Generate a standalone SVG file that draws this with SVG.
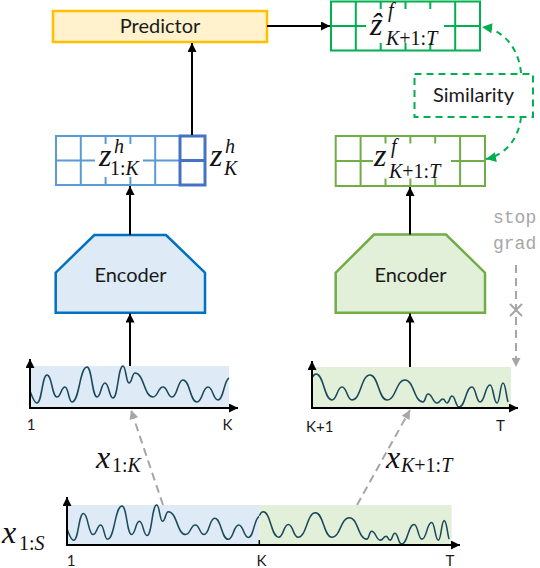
<svg xmlns="http://www.w3.org/2000/svg" xmlns:xlink="http://www.w3.org/1999/xlink" width="540" height="568" viewBox="0 0 540 568">
<style>
.lbl{font-family:Lato,"Liberation Sans",sans-serif;font-size:20px;fill:#1a1a1a}
.tick{font-family:Lato,"Liberation Sans",sans-serif;font-size:15px;fill:#1a1a1a}
.m{font-family:"Liberation Serif","DejaVu Serif",serif;font-style:italic;font-size:32px;fill:#111}
.s{font-size:20px}
.up{font-style:normal}
.mono{font-family:"Liberation Mono","DejaVu Sans Mono",monospace;font-size:18px;fill:#a6a6a6}
.wave{fill:none;stroke:#1c4a5c;stroke-width:1.6}
.axis{stroke:#000;stroke-width:2;fill:none}
.conn{stroke:#000;stroke-width:2;fill:none}
.gdash{stroke:#a6a6a6;stroke-width:2;stroke-dasharray:8 5;fill:none}
.grdash{stroke:#00b050;stroke-width:2;stroke-dasharray:6 5;fill:none}
.bgrid{stroke:#5b9bd5;stroke-width:2;fill:none}
.ggrid{stroke:#70ad47;stroke-width:2;fill:none}
.hgrid{stroke:#00b050;stroke-width:2;fill:none}
</style>
<defs>
<marker id="ah" viewBox="0 0 10 10" refX="10" refY="5" markerWidth="10" markerHeight="9" markerUnits="userSpaceOnUse" orient="auto"><path d="M0,0 L10,5 L0,10 z" fill="#000"/></marker>
<marker id="ahg" viewBox="0 0 10 10" refX="10" refY="5" markerWidth="10" markerHeight="9" markerUnits="userSpaceOnUse" orient="auto"><path d="M0,0 L10,5 L0,10 z" fill="#a6a6a6"/></marker>
<marker id="ahgr" viewBox="0 0 10 10" refX="10" refY="5" markerWidth="11" markerHeight="10" markerUnits="userSpaceOnUse" orient="auto"><path d="M0,0 L10,5 L0,10 z" fill="#00b050"/></marker>
<path id="waveL" class="wave" d="M30,391 C32,396 34,403 37,403 C42,403 42,375 47,375 C52,375 52,397 57,397 C61,397 61,387 65,387 C68.5,387 68.5,402 72,402 C79.5,402 79.5,367 87,367 C92,367 92,397 97,397 C101,397 101,383 105,383 C109,383 109,398 113,398 C118,398 118,366 123,366 C126,366 126,383 129,383 C132,383 132,373 135,373 C144,373 144,397 153,397 C158,397 158,387 163,387 C167.5,387 167.5,397 172,397 C177.5,397 177.5,380 183,380 C190,380 190,402 197,402 C202.5,402 202.5,387 208,387 C213,387 213,400 218,400 C223.5,400 224,380 229,378"/>
<path id="waveR" class="wave" d="M312,378 C313,376 314,374 316,374 C324,374 324,400 332,400 C337,400 337,387 342,387 C347,387 347,400 352,400 C361,400 361,375 370,375 C378.5,375 378.5,400 387,400 C396,400 396,380 405,380 C414,380 414,402 423,402 C425.5,402 425.5,394 428,394 C432.5,394 432.5,403 437,403 C440,403 440,399 443,399 C445,399 445,403 447,403 C449.5,403 449.5,396 452,396 C455.5,396 455.5,407 459,407 C465.5,407 465.5,387 472,387 C476,387 476,402 480,402 C485,402 485,385 490,385 C493.5,385 493.5,403 497,403 C500,403 500,383 503,383 C505.5,383 506,395 508,402"/>
</defs>

<g id="predictor">
<rect x="53" y="11" width="214" height="31" fill="#fff2cc" stroke="#ffc000" stroke-width="2.5"/>
<text class="lbl" x="160" y="33" text-anchor="middle">Predictor</text>
</g>

<g id="zhat-box">
<rect x="331" y="1.5" width="149" height="49" class="hgrid"/>
<path class="hgrid" d="M355.8,1.5V50.5 M455.2,1.5V50.5 M380.7,1.5V9 M405.5,1.5V9 M430.3,1.5V9 M380.7,43V50.5 M405.5,43V50.5 M430.3,43V50.5 M331,26H366 M444,26H480"/>
<text class="m" x="370" y="35">ẑ<tspan class="s" x="388" y="17">f</tspan><tspan class="s" x="386" y="45">K</tspan><tspan class="s up">+1:</tspan><tspan class="s">T</tspan></text>
</g>

<g id="similarity">
<rect x="414.5" y="74" width="118.5" height="43" fill="none" stroke="#00b050" stroke-width="2" stroke-dasharray="7 5"/>
<text class="lbl" x="473.5" y="102" text-anchor="middle">Similarity</text>
</g>

<g id="zh-box">
<rect x="56" y="136" width="124" height="49" class="bgrid"/>
<path class="bgrid" d="M80.8,136V185 M155.2,136V185 M105.6,136V144 M130.4,136V144 M105.6,177V185 M130.4,177V185 M56,160.5H95 M143,160.5H180"/>
<rect x="180" y="136" width="25" height="49" fill="none" stroke="#4472c4" stroke-width="3"/>
<path d="M180,160.5H205" stroke="#4472c4" stroke-width="3"/>
<text class="m" x="99" y="166">z<tspan class="s" x="114" y="153">h</tspan><tspan class="s up" x="110" y="175">1:</tspan><tspan class="s">K</tspan></text>
<text class="m" x="210" y="166">z<tspan class="s" x="225" y="153">h</tspan><tspan class="s" x="224" y="175">K</tspan></text>
</g>

<g id="zf-box">
<rect x="335.7" y="136" width="149.3" height="50" class="ggrid"/>
<path class="ggrid" d="M360.6,136V186 M460.1,136V186 M385.5,136V143.5 M410.4,136V143.5 M435.2,136V143.5 M385.5,178.5V186 M410.4,178.5V186 M435.2,178.5V186 M335.7,161H373 M451,161H485"/>
<text class="m" x="374" y="166">z<tspan class="s" x="391" y="153">f</tspan><tspan class="s" x="389" y="178">K</tspan><tspan class="s up">+1:</tspan><tspan class="s">T</tspan></text>
</g>

<g id="encoder-left">
<path d="M94.3,235 H166 L205,272.7 V312.7 H55.7 V272.7 Z" fill="#deebf7" stroke="#0070c0" stroke-width="2.5"/>
<text class="lbl" x="130.5" y="282" text-anchor="middle">Encoder</text>
</g>

<g id="encoder-right">
<path d="M374,234.5 H446 L485,272.7 V312.7 H335.7 V272.7 Z" fill="#e2f0d9" stroke="#70ad47" stroke-width="2.5"/>
<text class="lbl" x="410.5" y="282" text-anchor="middle">Encoder</text>
</g>

<g id="plot-left">
<rect x="30" y="366" width="199" height="42" fill="#deebf7"/>
<use xlink:href="#waveL" href="#waveL"/>
<line class="axis" x1="30" y1="409" x2="30" y2="359" marker-end="url(#ah)"/>
<line class="axis" x1="29" y1="408" x2="238" y2="408" marker-end="url(#ah)"/>
<text class="tick" x="31" y="430" text-anchor="middle">1</text>
<text class="tick" x="227.5" y="430" text-anchor="middle">K</text>
</g>

<g id="plot-right">
<rect x="312" y="367" width="199" height="41" fill="#e2f0d9"/>
<use xlink:href="#waveR" href="#waveR"/>
<line class="axis" x1="312" y1="409" x2="312" y2="361" marker-end="url(#ah)"/>
<line class="axis" x1="311" y1="408" x2="518" y2="408" marker-end="url(#ah)"/>
<text class="tick" x="306" y="432">K+1</text>
<text class="tick" x="500.5" y="431" text-anchor="middle">T</text>
</g>

<g id="plot-full">
<rect x="67" y="505" width="192.3" height="40" fill="#deebf7"/>
<rect x="259.3" y="505" width="192.4" height="40" fill="#e2f0d9"/>
<use xlink:href="#waveL" href="#waveL" transform="matrix(0.965 0 0 0.952 38.05 156.6)"/>
<use xlink:href="#waveR" href="#waveR" transform="matrix(0.968 0 0 0.976 -42.7 146.8)"/>
<line class="axis" x1="67" y1="546" x2="67" y2="497" marker-end="url(#ah)"/>
<line class="axis" x1="66" y1="545" x2="460" y2="545" marker-end="url(#ah)"/>
<line x1="259.3" y1="540" x2="259.3" y2="545" stroke="#000" stroke-width="1.5"/>
<text class="tick" x="71" y="566" text-anchor="middle">1</text>
<text class="tick" x="261.5" y="566" text-anchor="middle">K</text>
<text class="tick" x="450" y="566" text-anchor="middle">T</text>
<text class="m" x="2" y="543">x<tspan class="s up" x="19" y="550">1:</tspan><tspan class="s">S</tspan></text>
</g>

<g id="input-labels">
<text class="m" x="96" y="468">x<tspan class="s up" x="112" y="472">1:</tspan><tspan class="s">K</tspan></text>
<text class="m" x="386" y="468">x<tspan class="s" x="401" y="472">K</tspan><tspan class="s up">+1:</tspan><tspan class="s">T</tspan></text>
<text class="mono" x="493" y="223">stop</text>
<text class="mono" x="493" y="249">grad</text>
</g>

<g id="connectors">
<line class="conn" x1="130" y1="366" x2="130" y2="313.5" marker-end="url(#ah)"/>
<line class="conn" x1="130" y1="235" x2="130" y2="186" marker-end="url(#ah)"/>
<line class="conn" x1="192" y1="135" x2="192" y2="43" marker-end="url(#ah)"/>
<line class="conn" x1="267" y1="26" x2="330" y2="26" marker-end="url(#ah)"/>
<line class="conn" x1="410" y1="367" x2="410" y2="313.5" marker-end="url(#ah)"/>
<line class="conn" x1="410" y1="234.5" x2="410" y2="187" marker-end="url(#ah)"/>
<line class="gdash" x1="163" y1="505" x2="131" y2="410" marker-end="url(#ahg)"/>
<line class="gdash" x1="357" y1="505" x2="410" y2="410" marker-end="url(#ahg)"/>
<line class="gdash" x1="516" y1="265" x2="516" y2="367" marker-end="url(#ahg)"/>
<path d="M510,304 L522,316 M522,304 L510,316" stroke="#a6a6a6" stroke-width="2"/>
<path class="grdash" d="M521,73 C519,50 505,30 482,27" marker-end="url(#ahgr)"/>
<path class="grdash" d="M521,117 C519,138 506,155 486,159" marker-end="url(#ahgr)"/>
</g>
</svg>
